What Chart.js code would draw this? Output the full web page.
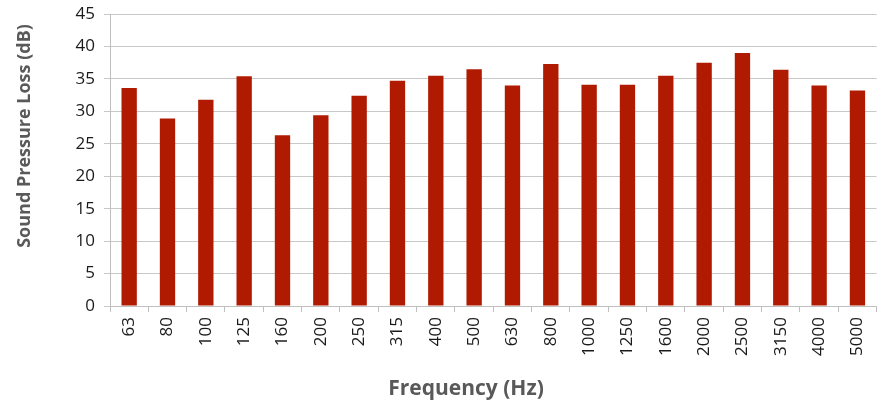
<!DOCTYPE html>
<html>
<head>
<meta charset="utf-8">
<script src="https://cdn.jsdelivr.net/npm/chart.js@4"></script>
<style>
  html, body { margin: 0; padding: 0; background: #fff; }
  .chart-container { position: relative; width: 883px; height: 404px; }
</style>
</head>
<body>
<div class="chart-container">
  <canvas id="chart"></canvas>
</div>
<script>
const frequencies = ['63', '80', '100', '125', '160', '200', '250', '315', '400', '500',
  '630', '800', '1000', '1250', '1600', '2000', '2500', '3150', '4000', '5000'];
const lossValues = [33.6, 28.9, 31.8, 35.4, 26.3, 29.4, 32.4, 34.7, 35.5, 36.5,
  34.0, 37.3, 34.1, 34.1, 35.5, 37.5, 39.0, 36.4, 34.0, 33.2];
const yMin = 0;
const yMax = 45;
const yStep = 5;
const xTitle = 'Frequency (Hz)';
const yTitle = 'Sound Pressure Loss (dB)';

// axis titles sit off-centre in the original, so draw them by hand
const axisTitles = {
  id: 'axisTitles',
  afterDraw(chart) {
    const c = chart.ctx;
    c.save();
    c.fillStyle = '#595959';
    c.textAlign = 'center';
    c.textBaseline = 'middle';
    c.font = 'bold 21px "Open Sans"';
    c.fillText(xTitle, 466, 389);
    c.translate(25, 136);
    c.rotate(-Math.PI / 2);
    c.font = 'bold 18px "Open Sans"';
    c.fillText(yTitle, 0, 0);
    c.restore();
  }
};

const ctx = document.getElementById('chart').getContext('2d');

new Chart(ctx, {
  type: 'bar',
  data: {
    labels: frequencies,
    datasets: [{
      label: 'Sound Pressure Loss',
      data: lossValues,
      backgroundColor: '#b01a00',
      borderWidth: 0,
      barPercentage: 0.4,
      categoryPercentage: 1.0
    }]
  },
  options: {
    responsive: true,
    maintainAspectRatio: false,
    animation: false,
    layout: { padding: { top: 14, right: 6, left: 0, bottom: 0 } },
    plugins: {
      legend: { display: false },
      tooltip: { enabled: false }
    },
    scales: {
      x: {
        offset: true,
        afterFit: s => { s.height = 98; },
        grid: {
          offset: true,
          drawOnChartArea: false,
          drawTicks: true,
          tickLength: 6,
          color: '#bfbfbf'
        },
        border: { color: '#bfbfbf' },
        ticks: {
          minRotation: 90,
          maxRotation: 90,
          autoSkip: false,
          padding: 5,
          color: '#1a1a1a',
          font: { family: 'Open Sans', size: 17 }
        }
      },
      y: {
        min: yMin,
        max: yMax,
        afterFit: s => { s.width = 110; s.paddingTop = 0; s.paddingBottom = 0; },
        grid: {
          color: '#c8c8c8',
          tickLength: 6
        },
        border: { color: '#bfbfbf' },
        ticks: {
          stepSize: yStep,
          padding: 9,
          color: '#1a1a1a',
          font: { family: 'Open Sans', size: 17 }
        }
      }
    }
  },
  plugins: [axisTitles]
});
</script>
</body>
</html>
